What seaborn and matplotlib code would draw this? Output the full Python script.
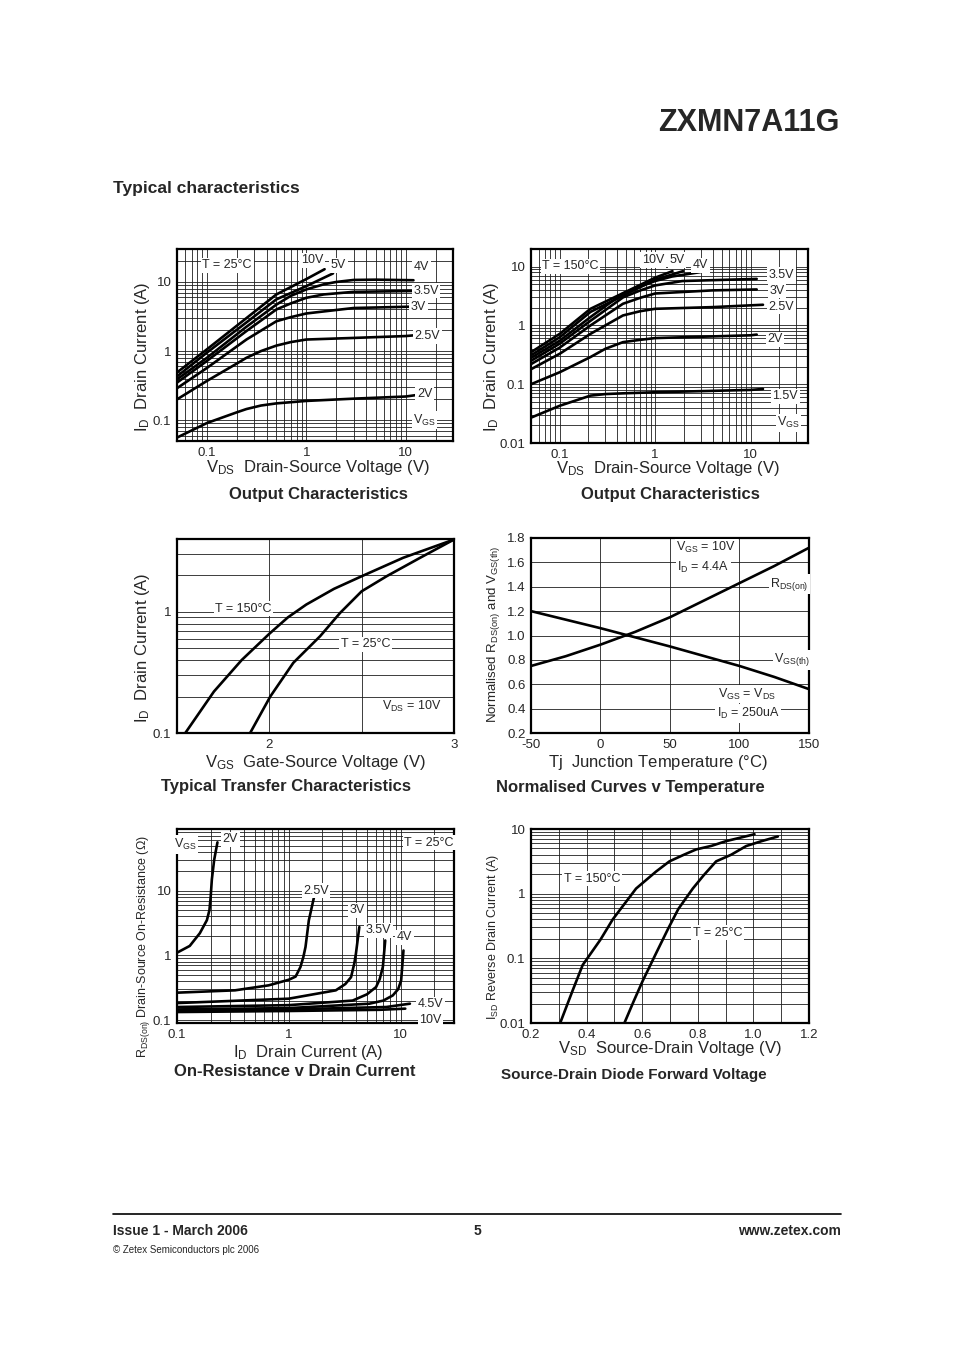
import numpy as np
import pandas as pd
import matplotlib
matplotlib.use("Agg")
import matplotlib.pyplot as plt
import seaborn as sns
from matplotlib.ticker import FixedLocator, FuncFormatter, LogLocator, NullFormatter, MultipleLocator

# ---------------- data ----------------
# Output characteristics, T = 25C  (VDS [V] -> ID [A])
out25_vds = {
    "2V":   [0.05, 0.1, 0.2, 0.25, 0.35, 0.5, 1, 3, 10, 14],
    "2.5V": [0.05, 0.1, 0.2, 0.25, 0.35, 0.5, 0.7, 1, 3, 10, 14],
    "3V":   [0.05, 0.1, 0.25, 0.5, 0.7, 1, 2, 3, 12],
    "3.5V": [0.05, 0.1, 0.25, 0.5, 0.7, 1, 1.5, 3, 12],
    "4V":   [0.05, 0.1, 0.25, 0.5, 0.7, 1, 1.5, 2, 3, 5, 12],
    "5V":   [0.05, 0.1, 0.25, 0.5, 1, 1.86],
    "10V":  [0.05, 0.1, 0.25, 0.5, 1, 1.53],
}
out25_id = {
    "2V":   [0.056, 0.091, 0.13, 0.145, 0.163, 0.175, 0.19, 0.205, 0.22, 0.235],
    "2.5V": [0.2, 0.37, 0.66, 0.8, 1.0, 1.2, 1.35, 1.47, 1.55, 1.65, 1.72],
    "3V":   [0.29, 0.57, 1.47, 2.7, 3.1, 3.5, 3.93, 4.2, 4.4],
    "3.5V": [0.35, 0.72, 1.95, 4.0, 4.9, 5.9, 6.6, 7.2, 7.4],
    "4V":   [0.39, 0.8, 2.25, 4.7, 6.3, 7.8, 9.25, 10.0, 10.7, 10.8, 10.6],
    "5V":   [0.43, 0.95, 2.6, 5.6, 8.7, 13.3],
    "10V":  [0.49, 1.06, 3.0, 6.6, 11.0, 15.3],
}

# Output characteristics, T = 150C
out150_vds = {
    "1.5V": [0.05, 0.1, 0.21, 0.3, 0.46, 1, 10, 13.5],
    "2V":   [0.05, 0.1, 0.21, 0.3, 0.46, 0.7, 1, 10, 11.6],
    "2.5V": [0.05, 0.1, 0.21, 0.46, 0.7, 1, 3.95, 13.5],
    "3V":   [0.05, 0.1, 0.21, 0.46, 0.7, 1, 3.95, 11.6],
    "3.5V": [0.05, 0.1, 0.21, 0.46, 0.7, 1, 1.93, 11.6],
    "4V":   [0.05, 0.1, 0.21, 0.46, 0.7, 1, 1.5, 3],
    "5V":   [0.05, 0.1, 0.21, 1, 1.96],
    "10V":  [0.05, 0.1, 0.21, 1, 1.52],
}
out150_id = {
    "1.5V": [0.027, 0.043, 0.064, 0.068, 0.07, 0.073, 0.08, 0.083],
    "2V":   [0.1, 0.16, 0.29, 0.4, 0.52, 0.57, 0.61, 0.68, 0.7],
    "2.5V": [0.18, 0.33, 0.72, 1.48, 1.75, 1.92, 2.05, 2.25],
    "3V":   [0.22, 0.42, 1.0, 2.34, 2.96, 3.5, 3.95, 4.1],
    "3.5V": [0.25, 0.49, 1.2, 3.0, 3.95, 4.8, 5.7, 6.2],
    "4V":   [0.28, 0.55, 1.39, 3.5, 4.6, 5.7, 6.8, 8.1],
    "5V":   [0.31, 0.63, 1.7, 6.0, 8.4],
    "10V":  [0.35, 0.72, 1.92, 6.5, 8.4],
}

# Transfer characteristics (VGS [V] -> ID [A]), VDS = 10V
tr_vgs_150 = [1.545, 1.7, 1.85, 2.0, 2.1, 2.2, 2.35, 2.5, 2.725, 3.0]
tr_id_150 = [0.1, 0.22, 0.4, 0.66, 0.9, 1.15, 1.55, 1.97, 2.8, 3.96]
tr_vgs_25 = [1.896, 2.005, 2.13, 2.275, 2.383, 2.5, 2.635, 2.815, 3.0]
tr_id_25 = [0.1, 0.2, 0.38, 0.63, 0.98, 1.48, 1.97, 2.79, 3.96]

# Normalised curves v temperature
tj = [-50, -25, 0, 25, 50, 75, 100, 125, 150]
rds_norm = [0.75, 0.83, 0.925, 1.03, 1.15, 1.29, 1.43, 1.57, 1.72]
vth_norm = [1.2, 1.13, 1.06, 0.985, 0.91, 0.83, 0.75, 0.66, 0.56]

# On-resistance v drain current (ID [A] -> RDS(on) [ohm]), T = 25C
ron_id = {
    "2V":   [0.1, 0.13, 0.16, 0.185, 0.195, 0.2, 0.205, 0.215, 0.23],
    "2.5V": [0.1, 0.33, 0.66, 1.0, 1.15, 1.27, 1.35, 1.41, 1.51, 1.68],
    "3V":   [0.1, 1.0, 2.63, 3.2, 3.6, 3.85, 3.98, 4.27],
    "3.5V": [0.1, 1.0, 3.72, 5.0, 6.03, 6.5, 6.93, 7.28],
    "4V":   [0.1, 1.0, 5.25, 7.0, 8.5, 9.5, 10.1, 10.6],
    "4.5V": [0.1, 1.0, 7.43, 12.1],
    "10V":  [0.1, 1.0, 6.47, 11.0],
}
ron_r = {
    "2V":   [1.1, 1.4, 2.2, 3.5, 5.0, 8.0, 15.0, 30.0, 56.0],
    "2.5V": [0.265, 0.288, 0.344, 0.42, 0.47, 0.66, 0.95, 1.35, 3.48, 7.97],
    "3V":   [0.183, 0.214, 0.288, 0.36, 0.46, 0.75, 1.06, 2.74],
    "3.5V": [0.159, 0.17, 0.2, 0.25, 0.324, 0.43, 0.66, 1.7],
    "4V":   [0.146, 0.153, 0.179, 0.2, 0.24, 0.3, 0.41, 1.19],
    "4.5V": [0.141, 0.146, 0.159, 0.179],
    "10V":  [0.133, 0.138, 0.144, 0.15],
}

# Source-drain diode forward voltage (VSD [V] -> ISD [A])
sd_vsd_150 = [0.305, 0.35, 0.386, 0.45, 0.494, 0.578, 0.65, 0.698, 0.75, 0.794, 0.85, 0.902, 1.004]
sd_isd_150 = [0.01, 0.032, 0.079, 0.195, 0.4, 1.2, 2.2, 3.16, 4.0, 4.83, 5.5, 6.5, 8.3]
sd_vsd_25 = [0.536, 0.57, 0.602, 0.65, 0.692, 0.73, 0.782, 0.82, 0.866, 0.92, 0.974, 1.03, 1.088]
sd_isd_25 = [0.01, 0.022, 0.045, 0.12, 0.28, 0.58, 1.2, 1.9, 3.16, 4.0, 5.45, 6.5, 7.66]

# ---------------- figure ----------------
sns.set_style("white")
plt.rcParams["font.family"] = ["Liberation Sans", "DejaVu Sans"]
plt.rcParams["mathtext.default"] = "regular"
plt.rcParams["axes.unicode_minus"] = False

W, H = 954, 1351
fig = plt.figure(figsize=(W / 100, H / 100), dpi=100)


def add_ax(l, r, t, b):
    return fig.add_axes([l / W, 1 - b / H, (r - l) / W, (b - t) / H])


def ftext(x, y, s, **kw):
    fig.text(x / W, 1 - y / H, s, **kw)


def fmt(v, _):
    return f"{v:g}"


def log_axis(axis, majors):
    axis.set_major_locator(FixedLocator(majors))
    axis.set_major_formatter(FuncFormatter(fmt))
    axis.set_minor_locator(LogLocator(subs=np.arange(2, 10), numticks=30))
    axis.set_minor_formatter(NullFormatter())


def style(ax):
    for sp in ax.spines.values():
        sp.set_color("black")
        sp.set_linewidth(1.6)
    ax.grid(which="both", color="#1e1e1e", lw=0.6)
    ax.set_axisbelow(True)
    ax.tick_params(which="both", length=0, labelsize=9.5, pad=4)
    ax.set_xlabel("")
    ax.set_ylabel("")


def curve(ax, x, y):
    sns.lineplot(x=x, y=y, ax=ax, color="black", lw=1.9, estimator=None, sort=False)


box = dict(fc="white", ec="none", pad=1.2)
lab = dict(fontsize=9, bbox=box, va="center", ha="center")

# header / footer
ftext(840, 123, "ZXMN7A11G", fontsize=22, fontweight="bold", ha="right", va="center")
ftext(113, 188, "Typical characteristics", fontsize=12.5, fontweight="bold", ha="left", va="center")
fig.add_artist(plt.Line2D([113 / W, 841 / W], [1 - 1214 / H, 1 - 1214 / H], color="black", lw=1.2))
ftext(113, 1231, "Issue 1 - March 2006", fontsize=10, fontweight="bold", ha="left", va="center")
ftext(477, 1231, "5", fontsize=10, fontweight="bold", ha="center", va="center")
ftext(841, 1231, "www.zetex.com", fontsize=10, fontweight="bold", ha="right", va="center")
ftext(113, 1250, "\u00a9 Zetex Semiconductors plc 2006", fontsize=7, ha="left", va="center")

# ---- 1. Output characteristics 25C ----
ax1 = add_ax(177, 453, 249, 441)
for k in out25_vds:
    curve(ax1, out25_vds[k], out25_id[k])
ax1.set_xscale("log"); ax1.set_yscale("log")
ax1.set_xlim(0.05, 30); ax1.set_ylim(0.05, 30)
log_axis(ax1.xaxis, [0.1, 1, 10]); log_axis(ax1.yaxis, [0.1, 1, 10])
style(ax1)
for s, x, y in [("10V", 1.15, 20.5), ("5V", 2.1, 17.5), ("4V", 14.5, 16.5), ("3.5V", 16, 7.5),
                ("3V", 13.5, 4.3), ("2.5V", 16.5, 1.65), ("2V", 15.5, 0.24),
                (r"$V_{GS}$", 15.5, 0.1)]:
    ax1.text(x, y, s, **lab)
ax1.text(0.16, 17.5, "T = 25\u00b0C", **lab)
ftext(142, 357, r"$I_D$  Drain Current (A)", fontsize=12, rotation=90, ha="center", va="center")
ftext(318, 468, r"$V_{DS}$  Drain-Source Voltage (V)", fontsize=12, ha="center", va="center")
ftext(318, 494, "Output Characteristics", fontsize=12, fontweight="bold", ha="center", va="center")

# ---- 2. Output characteristics 150C ----
ax2 = add_ax(531, 808, 249, 443)
for k in out150_vds:
    curve(ax2, out150_vds[k], out150_id[k])
ax2.set_xscale("log"); ax2.set_yscale("log")
ax2.set_xlim(0.05, 40); ax2.set_ylim(0.01, 20)
log_axis(ax2.xaxis, [0.1, 1, 10]); log_axis(ax2.yaxis, [0.01, 0.1, 1, 10])
style(ax2)
for s, x, y in [("10V", 0.95, 13), ("5V", 1.7, 13), ("4V", 3.0, 10.6), ("3.5V", 21, 7.2),
                ("3V", 19, 3.9), ("2.5V", 21, 2.1), ("2V", 18, 0.58), ("1.5V", 23, 0.062),
                (r"$V_{GS}$", 25, 0.022)]:
    ax2.text(x, y, s, **lab)
ax2.text(0.13, 10.2, "T = 150\u00b0C", **lab)
ftext(492, 357, r"$I_D$  Drain Current (A)", fontsize=12, rotation=90, ha="center", va="center")
ftext(668, 469, r"$V_{DS}$  Drain-Source Voltage (V)", fontsize=12, ha="center", va="center")
ftext(670, 494, "Output Characteristics", fontsize=12, fontweight="bold", ha="center", va="center")

# ---- 3. Transfer characteristics ----
ax3 = add_ax(177, 454, 539, 733)
curve(ax3, tr_vgs_150, tr_id_150)
curve(ax3, tr_vgs_25, tr_id_25)
ax3.set_yscale("log")
ax3.set_xlim(1.5, 3); ax3.set_ylim(0.1, 4)
ax3.xaxis.set_major_locator(FixedLocator([2, 3]))
ax3.xaxis.set_minor_locator(FixedLocator([2.5]))
log_axis(ax3.yaxis, [0.1, 1])
style(ax3)
ax3.text(1.86, 1.06, "T = 150\u00b0C", **lab)
ax3.text(2.52, 0.54, "T = 25\u00b0C", **lab)
ax3.text(2.77, 0.165, r"$V_{DS}$ = 10V", fontsize=9, ha="center", va="center")
ftext(142, 648, r"$I_D$  Drain Current (A)", fontsize=12, rotation=90, ha="center", va="center")
ftext(315, 762, r"$V_{GS}$  Gate-Source Voltage (V)", fontsize=12, ha="center", va="center")
ftext(286, 787, "Typical Transfer Characteristics", fontsize=12, fontweight="bold", ha="center", va="center")

# ---- 4. Normalised curves v temperature ----
ax4 = add_ax(531, 809, 538, 733)
curve(ax4, tj, rds_norm)
curve(ax4, tj, vth_norm)
ax4.set_xlim(-50, 150); ax4.set_ylim(0.2, 1.8)
ax4.xaxis.set_major_locator(MultipleLocator(50))
ax4.yaxis.set_major_locator(MultipleLocator(0.2))
ax4.yaxis.set_major_formatter(FuncFormatter(lambda v, _: f"{v:.1f}"))
style(ax4)
ax4.text(76, 1.72, r"$V_{GS}$ = 10V", **lab)
ax4.text(74, 1.56, r"$I_D$ = 4.4A", **lab)
ax4.text(136, 1.42, r"$R_{DS(on)}$", **lab)
ax4.text(138, 0.8, r"$V_{GS(th)}$", **lab)
ax4.text(105, 0.52, r"$V_{GS}$ = $V_{DS}$", **lab)
ax4.text(106, 0.36, r"$I_D$ = 250uA", **lab)
ftext(494, 634, r"Normalised $R_{DS(on)}$ and $V_{GS(th)}$", fontsize=9.5, rotation=90, ha="center", va="center")
ftext(658, 762, r"Tj  Junction Temperature ($\degree$C)", fontsize=12, ha="center", va="center")
ftext(630, 788, "Normalised Curves v Temperature", fontsize=12, fontweight="bold", ha="center", va="center")

# ---- 5. On-resistance v drain current ----
ax5 = add_ax(177, 454, 829, 1023)
for k in ron_id:
    curve(ax5, ron_id[k], ron_r[k])
ax5.set_xscale("log"); ax5.set_yscale("log")
ax5.set_xlim(0.1, 30); ax5.set_ylim(0.09, 90)
log_axis(ax5.xaxis, [0.1, 1, 10]); log_axis(ax5.yaxis, [0.1, 1, 10])
style(ax5)
for s, x, y in [(r"$V_{GS}$", 0.118, 52), ("2V", 0.3, 62), ("2.5V", 1.75, 10),
                ("3V", 4.1, 5.0), ("3.5V", 6.3, 2.45), ("4V", 10.8, 1.9),
                ("4.5V", 18.5, 0.175), ("10V", 18.5, 0.1)]:
    ax5.text(x, y, s, **lab)
ax5.text(18, 55, "T = 25\u00b0C", **lab)
ftext(143, 947, r"$R_{DS(on)}$ Drain-Source On-Resistance ($\Omega$)", fontsize=9, rotation=90, ha="center", va="center")
ftext(308, 1052, r"$I_D$  Drain Current (A)", fontsize=12, ha="center", va="center")
ftext(295, 1072, "On-Resistance v Drain Current", fontsize=12, fontweight="bold", ha="center", va="center")

# ---- 6. Source-drain diode forward voltage ----
ax6 = add_ax(531, 809, 829, 1023)
curve(ax6, sd_vsd_150, sd_isd_150)
curve(ax6, sd_vsd_25, sd_isd_25)
ax6.set_yscale("log")
ax6.set_xlim(0.2, 1.2); ax6.set_ylim(0.01, 10)
ax6.xaxis.set_major_locator(MultipleLocator(0.2))
ax6.xaxis.set_minor_locator(MultipleLocator(0.1))
ax6.xaxis.set_major_formatter(FuncFormatter(lambda v, _: f"{v:.1f}"))
log_axis(ax6.yaxis, [0.01, 0.1, 1, 10])
style(ax6)
ax6.text(0.42, 1.7, "T = 150\u00b0C", **lab)
ax6.text(0.87, 0.25, "T = 25\u00b0C", **lab)
ftext(493, 937, r"$I_{SD}$ Reverse Drain Current (A)", fontsize=9, rotation=90, ha="center", va="center")
ftext(670, 1049, r"$V_{SD}$  Source-Drain Voltage (V)", fontsize=12, ha="center", va="center")
ftext(634, 1075, "Source-Drain Diode Forward Voltage", fontsize=11, fontweight="bold", ha="center", va="center")

fig.savefig("out.png", dpi=100)
